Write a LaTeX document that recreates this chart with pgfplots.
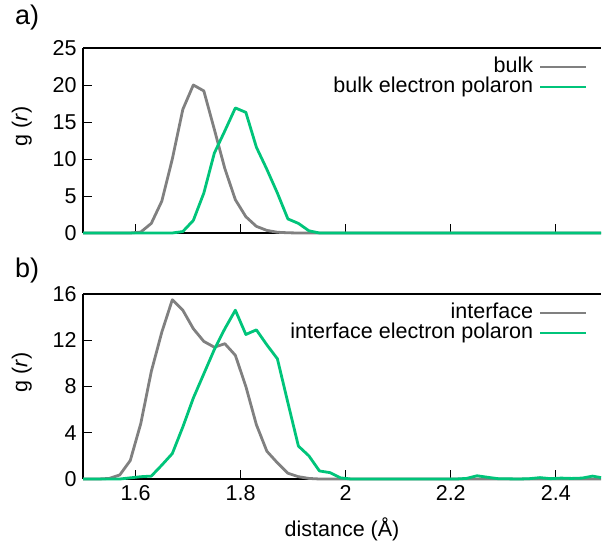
\documentclass[border=0pt]{standalone}
\usepackage{pgfplots}
\pgfplotsset{compat=1.18}
\usepackage{fontspec}
\setmainfont{Liberation Sans}
\definecolor{greyline}{RGB}{128,128,128}
\definecolor{polgreen}{RGB}{0,196,122}

\pgfplotsset{
  gpanel/.style={
    scale only axis,
    width=518bp, height=185bp,
    xmin=1.5, xmax=2.486,
    axis x line=box, axis y line=left,
    x axis line style={-, line width=1.1bp},
    y axis line style={-, line width=1.1bp},
    xtick={1.6,1.8,2.0,2.2,2.4},
    xtick pos=left, ytick pos=left,
    tick align=inside,
    major tick length=9bp,
    tick style={black, line width=1bp},
    /pgf/number format/assume math mode=true,
    tick label style={font=\fontsize{21.5bp}{25bp}\selectfont},
    yticklabel style={xshift=-3bp},
    xticklabel style={yshift=-3bp},
    label style={font=\fontsize{21.5bp}{25bp}\selectfont},
    ylabel={g (\textit{r})},
    ylabel style={at={(axis description cs:-0.118,0.575)}, anchor=center},
    xlabel style={yshift=-10bp},
    legend cell align=right,
    legend plot pos=right,
    legend image code/.code={\draw[#1] (0bp,0bp) -- (46bp,0bp);},
    legend style={at={(axis description cs:0.975,0.95)}, anchor=north east,
      draw=none, fill=none, inner sep=0pt, column sep=6bp, row sep=1bp,
      font=\fontsize{21.5bp}{25bp}\selectfont,
      nodes={inner sep=0pt, text height=15bp, text depth=4bp}},
    clip=false,
  },
  greystyle/.style={greyline, line width=2.8bp, line join=round},
  greenstyle/.style={polgreen, line width=2.8bp, line join=round},
}

\begin{document}
\begin{tikzpicture}
\path[use as bounding box] (0,0) rectangle (602bp,-546bp);

% a) bulk
\begin{axis}[gpanel, at={(83bp,-48bp)}, anchor=north west,
  ymin=0, ymax=25, ytick={0,5,10,15,20,25}, xticklabels={}]
\addplot[greystyle] coordinates {
 (1.50,0) (1.59,0) (1.61,0.13) (1.63,1.3) (1.65,4.3) (1.67,10.0) (1.69,16.7)
 (1.71,20.0) (1.73,19.2) (1.75,14.0) (1.77,8.7) (1.79,4.5) (1.81,2.2)
 (1.83,0.9) (1.85,0.35) (1.87,0.1) (1.89,0.03) (1.91,0) (2.486,0)};
\addlegendentry{bulk}
\addplot[greenstyle] coordinates {
 (1.50,0) (1.67,0) (1.69,0.2) (1.71,1.7) (1.73,5.4) (1.75,10.8) (1.77,13.8)
 (1.79,16.9) (1.81,16.3) (1.83,11.6) (1.85,8.6) (1.87,5.4) (1.89,1.9)
 (1.91,1.3) (1.93,0.3) (1.95,0) (2.486,0)};
\addlegendentry{bulk electron polaron}
\node[font=\fontsize{27bp}{30bp}\selectfont] at (axis description cs:-0.108,1.165) {a)};
\end{axis}

% b) interface
\begin{axis}[gpanel, at={(83bp,-294bp)}, anchor=north west,
  ymin=0, ymax=16, ytick={0,4,8,12,16},
  xticklabels={1.6,1.8,2,2.2,2.4},
  xlabel={distance (Å)}]
\addplot[greystyle] coordinates {
 (1.50,0) (1.53,0) (1.55,0.05) (1.57,0.35) (1.59,1.6) (1.61,4.8) (1.63,9.3)
 (1.65,12.7) (1.67,15.5) (1.69,14.6) (1.71,13.0) (1.73,11.9) (1.75,11.4)
 (1.77,11.7) (1.79,10.7) (1.81,8.0) (1.83,4.7) (1.85,2.4) (1.87,1.4)
 (1.89,0.5) (1.91,0.2) (1.93,0.05) (1.95,0) (2.486,0)};
\addlegendentry{interface}
\addplot[greenstyle] coordinates {
 (1.50,0) (1.57,0) (1.59,0.1) (1.61,0.2) (1.63,0.25) (1.65,1.2) (1.67,2.2)
 (1.69,4.5) (1.71,7.0) (1.73,9.1) (1.75,11.2) (1.77,13.0) (1.79,14.6)
 (1.81,12.5) (1.83,12.9) (1.85,11.6) (1.87,10.4) (1.89,6.6) (1.91,2.85)
 (1.93,2.0) (1.95,0.7) (1.97,0.55) (1.99,0.1) (2.01,0) (2.21,0) (2.23,0.05)
 (2.25,0.28) (2.27,0.15) (2.29,0.03) (2.33,0) (2.35,0.03) (2.37,0.12)
 (2.39,0.03) (2.41,0.08) (2.43,0.05) (2.45,0.08) (2.47,0.25) (2.486,0.12)};
\addlegendentry{interface electron polaron}
\node[font=\fontsize{27bp}{30bp}\selectfont] at (axis description cs:-0.108,1.127) {b)};
\end{axis}
\end{tikzpicture}
\end{document}
